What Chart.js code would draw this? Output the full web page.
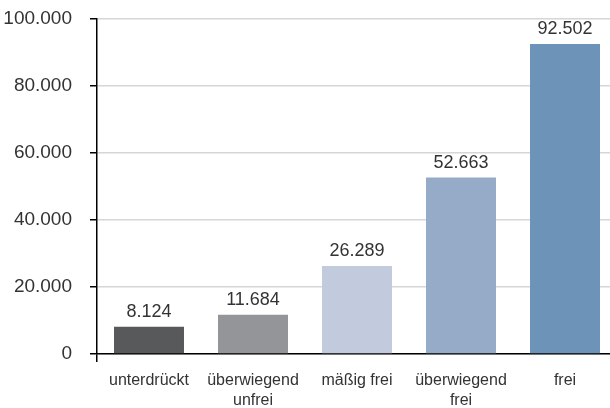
<!DOCTYPE html>
<html>
<head>
<meta charset="utf-8">
<script src="https://cdn.jsdelivr.net/npm/chart.js@4/dist/chart.umd.min.js"></script>
<style>
  html, body { margin: 0; padding: 0; background: #fff; overflow: hidden; }
  #chart { display: block; }
</style>
</head>
<body>
<canvas id="chart" width="617" height="408"></canvas>
<script>
const categories = ['unterdrückt', ['überwiegend', 'unfrei'], 'mäßig frei', ['überwiegend', 'frei'], 'frei'];
const values = [8124, 11684, 26289, 52663, 92502];
const barColors = ['#58595b', '#939598', '#c1cbdd', '#96abc8', '#6d93b8'];
const yTicks = [0, 20000, 40000, 60000, 80000, 100000];

const fontFamily = '"Liberation Sans", Arial, sans-serif';
const textColor = '#333333';

function formatDE(n) {
  return String(n).replace(/\B(?=(\d{3})+(?!\d))/g, '.');
}

// draws the value above each bar
const valueLabels = {
  id: 'valueLabels',
  afterDatasetsDraw(chart) {
    const ctx = chart.ctx;
    const meta = chart.getDatasetMeta(0);
    ctx.save();
    ctx.font = '18px ' + fontFamily;
    ctx.fillStyle = textColor;
    ctx.textAlign = 'center';
    ctx.textBaseline = 'bottom';
    meta.data.forEach((bar, i) => {
      ctx.fillText(formatDE(values[i]), bar.x, bar.y - 6);
    });
    ctx.restore();
  }
};

const chartCanvas = document.getElementById('chart');
const chart = new Chart(chartCanvas.getContext('2d'), {
  type: 'bar',
  data: {
    labels: categories,
    datasets: [{
      data: values,
      backgroundColor: barColors,
      barPercentage: 0.673,
      categoryPercentage: 1
    }]
  },
  options: {
    responsive: false,
    animation: false,
    layout: { padding: { top: 19, right: 0, left: 0, bottom: 0 } },
    plugins: {
      legend: { display: false },
      tooltip: { enabled: false }
    },
    scales: {
      x: {
        afterFit(axis) { axis.height = 54; },
        grid: {
          drawOnChartArea: false,
          drawTicks: true,
          tickLength: 8,
          lineWidth: 1.5,
          tickColor: ctx => ctx.index === 0 ? '#000' : 'rgba(0,0,0,0)'
        },
        border: { color: '#000', width: 1.5 },
        ticks: {
          color: textColor,
          font: { family: fontFamily, size: 16, lineHeight: 1.25 },
          padding: 9,
          maxRotation: 0
        }
      },
      y: {
        min: 0,
        max: 100000,
        afterFit(axis) {
          axis.width = 97;
          axis.paddingTop = 0;
          axis.paddingBottom = 0;
        },
        afterBuildTicks(axis) {
          axis.ticks = yTicks.map(v => ({ value: v }));
        },
        grid: {
          color: '#d6d6d6',
          lineWidth: 1.5,
          tickColor: '#000',
          tickLength: 7
        },
        border: { color: '#000', width: 1.5 },
        ticks: {
          color: textColor,
          font: { family: fontFamily, size: 19 },
          padding: 18,
          callback: v => formatDE(v)
        }
      }
    }
  },
  plugins: [valueLabels]
});
</script>
</body>
</html>
